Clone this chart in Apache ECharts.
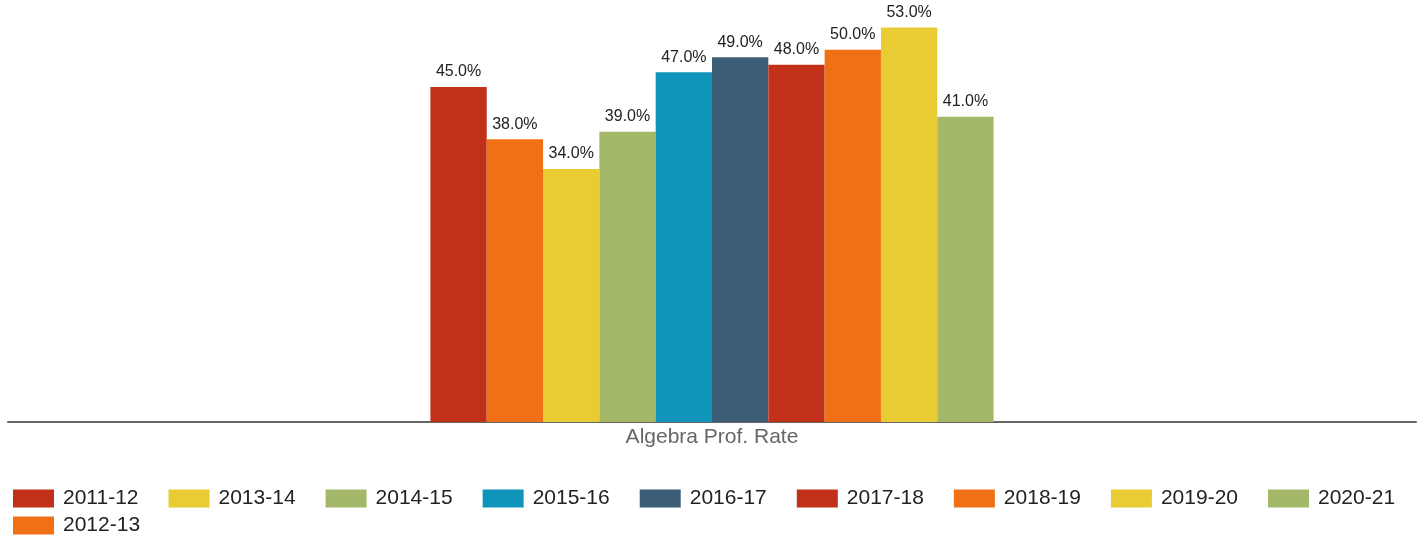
<!DOCTYPE html>
<html>
<head>
<meta charset="utf-8">
<script src="https://cdn.jsdelivr.net/npm/echarts@6/dist/echarts.min.js"></script>
<style>
  html, body { margin: 0; padding: 0; background: #fff; }
  #chart { width: 1424px; height: 540px; }
</style>
</head>
<body>
<div id="chart"></div>
<script>
// School years, one bar each
const years = ['2011-12', '2012-13', '2013-14', '2014-15', '2015-16', '2016-17', '2017-18', '2018-19', '2019-20', '2020-21'];
// Algebra proficiency rate (%) per year
const rates = [45, 38, 34, 39, 47, 49, 48, 50, 53, 41];
const categories = ['Algebra Prof. Rate'];
// Legend rows
const legendRow1 = ['2011-12', '2013-14', '2014-15', '2015-16', '2016-17', '2017-18', '2018-19', '2019-20', '2020-21'];
const legendRow2 = ['2012-13'];
const colors = ['#C1311A', '#F07016', '#E9CB33', '#A4B869', '#0F95BA', '#3B5D76', '#C1311A', '#F07016', '#E9CB33', '#A4B869'];

const legendBase = {
  left: 13,
  padding: 0,
  itemWidth: 41,
  itemHeight: 18,
  itemGap: 30,
  icon: 'rect',
  textStyle: { fontSize: 21, color: '#222', padding: [0, 0, 0, 4] }
};

const chart = echarts.init(document.getElementById('chart'));
chart.setOption({
  animation: false,
  textStyle: { fontFamily: 'Liberation Sans, Arial, sans-serif' },
  grid: { left: 8, right: 8, top: 0, bottom: 118, containLabel: false },
  legend: [
    Object.assign({}, legendBase, { data: legendRow1, top: 488 }),
    Object.assign({}, legendBase, { data: legendRow2, top: 515 })
  ],
  xAxis: {
    type: 'category',
    data: categories,
    axisLine: { lineStyle: { color: '#666', width: 2 } },
    axisTick: { show: false },
    axisLabel: { fontSize: 21, color: '#666', margin: 5 }
  },
  yAxis: {
    type: 'value',
    min: 0,
    max: 56.7,
    show: false,
    splitLine: { show: false }
  },
  series: years.map((y, i) => ({
    name: y,
    type: 'bar',
    data: [rates[i]],
    barGap: '0%',
    barCategoryGap: '60%',
    itemStyle: { color: colors[i] },
    label: {
      show: true,
      position: 'top',
      distance: 7,
      fontSize: 16,
      color: '#222',
      formatter: p => p.value.toFixed(1) + '%'
    }
  }))
});
</script>
</body>
</html>
